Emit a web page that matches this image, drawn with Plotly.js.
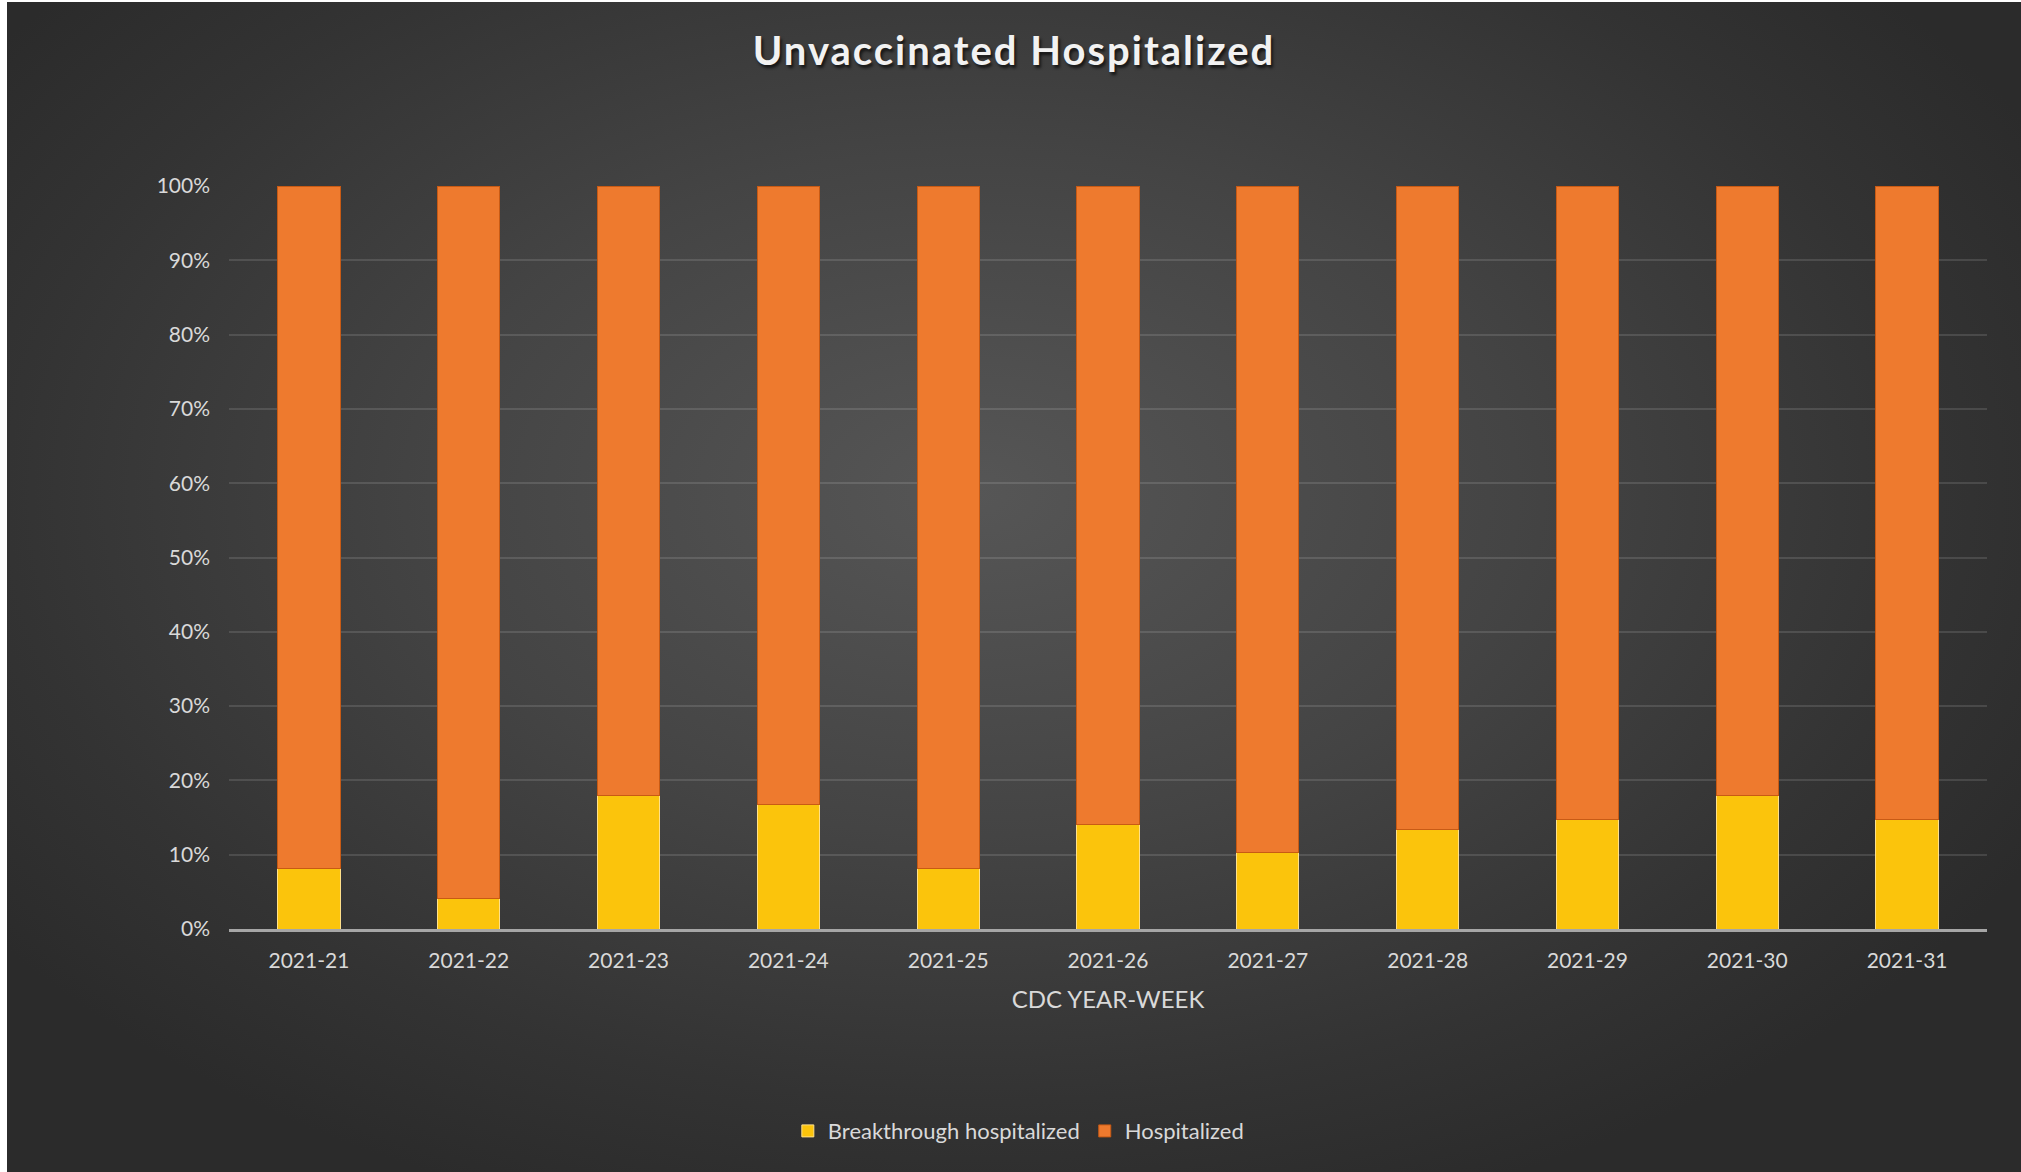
<!DOCTYPE html>
<html>
<head>
<meta charset="utf-8">
<script src="https://cdn.plot.ly/plotly-3.0.1.min.js"></script>
<style>
  html, body { margin: 0; padding: 0; background: #ffffff; }
  #chart {
    position: absolute; left: 7px; top: 2px; width: 2014px; height: 1170px;
    background: radial-gradient(ellipse 60% 65% at 48% 42%, #565656 0%, #444444 45%, #333333 80%, #2b2b2b 100%);
  }
  #chart .gtitle { letter-spacing: 2px; }
</style>
</head>
<body>
<div id="chart"></div>
<script>
// settimane CDC (anno-settimana)
const weeks = ['2021-21', '2021-22', '2021-23', '2021-24', '2021-25', '2021-26',
               '2021-27', '2021-28', '2021-29', '2021-30', '2021-31'];
// quota percentuale dei ricoveri breakthrough
const breakthrough = [8.2, 4.1, 18.0, 16.8, 8.2, 14.0, 10.3, 13.4, 14.7, 18.0, 14.7];
// quota percentuale dei ricoverati non vaccinati
const hospitalized = [91.8, 95.9, 82.0, 83.2, 91.8, 86.0, 89.7, 86.6, 85.3, 82.0, 85.3];
const yTicks = [0, 10, 20, 30, 40, 50, 60, 70, 80, 90, 100];
const yTickText = yTicks.map(v => v + '%');

const fontFam = 'Lato, "DejaVu Sans", sans-serif';

var traces = [
    {
        x: weeks,
        y: breakthrough,
        type: 'bar',
        name: 'Breakthrough hospitalized',
        marker: { color: '#FBC40C', line: { color: '#FFE08A', width: 1 } },
        hoverinfo: 'x+y'
    },
    {
        x: weeks,
        y: hospitalized,
        type: 'bar',
        name: 'Hospitalized',
        marker: { color: '#EE7A2E', line: { color: '#C85A14', width: 1 } },
        hoverinfo: 'x+y'
    }
];

var layout = {
    width: 2014,
    height: 1170,
    margin: { l: 222, r: 34, t: 184, b: 243 },
    paper_bgcolor: 'rgba(0,0,0,0)',
    plot_bgcolor: 'rgba(0,0,0,0)',
    barmode: 'stack',
    bargap: 0.61,
    font: { family: fontFam, color: '#D9D9D9', size: 20 },
    title: {
        text: 'Unvaccinated Hospitalized',
        font: { family: fontFam, size: 40, weight: 700, color: '#F2F2F2',
                shadow: '2px 3px 3px rgba(0,0,0,0.65)' },
        x: 0.5, xanchor: 'center',
        y: 0.958, yref: 'container', yanchor: 'middle'
    },
    xaxis: {
        type: 'category',
        tickvals: weeks,
        ticktext: weeks,
        showgrid: false,
        showline: true,
        linecolor: '#A6A6A6',
        linewidth: 3,
        ticks: '',
        ticklabelstandoff: 11,
        tickfont: { size: 21, color: '#D9D9D9' },
        title: { text: 'CDC YEAR-WEEK', font: { size: 24, color: '#D9D9D9' }, standoff: 20 },
        fixedrange: true
    },
    yaxis: {
        range: [0, 100],
        tickmode: 'array',
        tickvals: yTicks,
        ticktext: yTickText,
        showgrid: true,
        gridcolor: 'rgba(255,255,255,0.12)',
        gridwidth: 2,
        zeroline: false,
        showline: false,
        ticks: '',
        ticklabelstandoff: 18,
        tickfont: { size: 21, color: '#D9D9D9' },
        fixedrange: true
    },
    showlegend: true,
    legend: {
        orientation: 'h',
        x: 0.449, xanchor: 'center',
        y: -0.272, yanchor: 'middle',
        font: { size: 22, color: '#D9D9D9' },
        bgcolor: 'rgba(0,0,0,0)',
        itemwidth: 30,
        traceorder: 'normal'
    }
};

Plotly.newPlot('chart', traces, layout, { displayModeBar: false, staticPlot: true });
</script>
</body>
</html>
